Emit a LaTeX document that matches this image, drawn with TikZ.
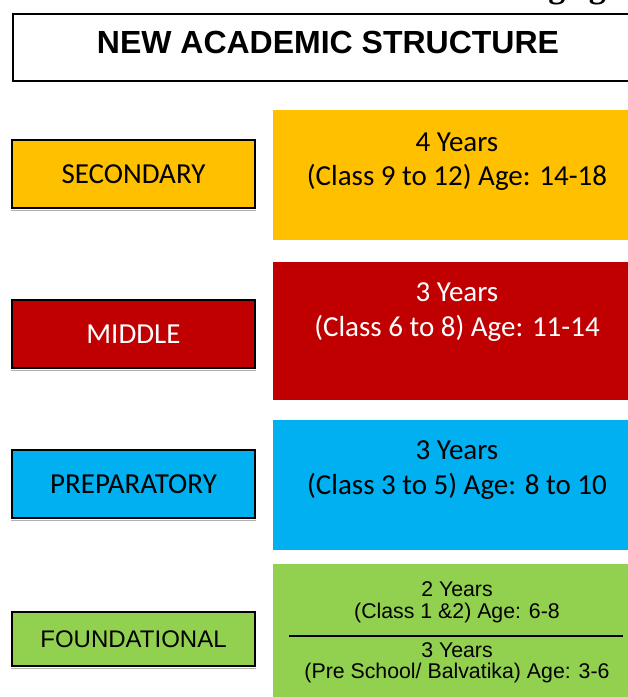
\documentclass[tikz,border=0pt]{standalone}
\usepackage{fontspec}
\newfontfamily\carlitofont{Carlito}
\newfontfamily\arialfont{Liberation Sans}
\newfontfamily\timesfont{Liberation Serif}
\definecolor{secyellow}{HTML}{FFC000}
\definecolor{midred}{HTML}{C00000}
\definecolor{prepblue}{HTML}{00B0F0}
\definecolor{foundgreen}{HTML}{92D050}
\definecolor{shadowgray}{HTML}{B0B0B0}
\begin{document}
\begin{tikzpicture}[x=1pt,y=-1pt,
  stagebox/.style={draw=black,line width=1.8pt,minimum width=243pt,minimum height=68pt,
    inner sep=0pt,font=\carlitofont\fontsize{29}{34}\selectfont},
  spanbox/.style={draw=none,minimum width=368pt,inner sep=0pt},
  spantext/.style={inner sep=0pt,font=\carlitofont\fontsize{29}{34}\selectfont},
  greentext/.style={inner sep=0pt,font=\arialfont\fontsize{21.3}{25}\selectfont},
  shadowline/.style={draw=shadowgray,line width=1pt}]
\useasboundingbox (0,0) rectangle (628,697);
\clip (0,0) rectangle (628,697);

% caption line above the chart, running past the top edge
\node[anchor=base west,inner sep=0pt,font=\timesfont\bfseries\fontsize{34}{38}\selectfont]
  (caption) at (-42,-3) {Table 1: New Academic Structure with age group};

% title box
\node[draw=black,line width=1.8pt,minimum width=632pt,minimum height=67pt,anchor=north west,
  inner sep=0pt] (titlebox) at (12,13) {};
\node[inner sep=0pt,font=\arialfont\bfseries\fontsize{32}{36}\selectfont] (title) at (328,42)
  {NEW ACADEMIC STRUCTURE};

% stage labels on the left
\node[stagebox,fill=secyellow] (secondary) at (133.5,174) {SECONDARY};
\node[stagebox,fill=midred,text=white] (middle) at (133.5,334) {MIDDLE};
\node[stagebox,fill=prepblue] (preparatory) at (133.5,484) {PREPARATORY};
\node[stagebox,fill=foundgreen,minimum height=54pt,
  font=\arialfont\fontsize{24}{28}\selectfont] (foundational) at (133.5,639) {FOUNDATIONAL};
\draw[shadowline] ([yshift=-1.8pt]secondary.south west) -- ([yshift=-1.8pt]secondary.south east);
\draw[shadowline] ([yshift=-1.8pt]middle.south west) -- ([yshift=-1.8pt]middle.south east);
\draw[shadowline] ([yshift=-1.8pt]preparatory.south west) -- ([yshift=-1.8pt]preparatory.south east);
\draw[shadowline] ([yshift=-1.8pt]foundational.south west) -- ([yshift=-1.8pt]foundational.south east);

% duration panels on the right
\node[spanbox,fill=secyellow,minimum height=130pt] (secspan) at (457,175) {};
\node[spanbox,fill=midred,minimum height=138pt] (midspan) at (457,331) {};
\node[spanbox,fill=prepblue,minimum height=130pt] (prepspan) at (457,485) {};
\node[spanbox,fill=foundgreen,minimum height=140pt] (foundspan) at (457,634) {};

\node[spantext] (secyears) at (457,142) {4 Years};
\node[spantext] (secclass) at (457,177) {(Class 9 to 12) Age: 14-18};
\node[spantext,text=white] (midyears) at (457,292) {3 Years};
\node[spantext,text=white] (midclass) at (457,328) {(Class 6 to 8) Age: 11-14};
\node[spantext] (prepyears) at (457,450) {3 Years};
\node[spantext] (prepclass) at (457,486) {(Class 3 to 5) Age: 8 to 10};

\node[greentext] (earlyyears) at (457,589) {2 Years};
\node[greentext] (earlyclass) at (457,613) {(Class 1 \&2) Age: 6-8};
\coordinate (divleft) at (289,636);
\coordinate (divright) at (623,636);
\draw[line width=1.5pt] (divleft) -- (divright);
\node[greentext] (preyears) at (457,650) {3 Years};
\node[greentext] (preclass) at (457,673) {(Pre School/ Balvatika) Age: 3-6};
\end{tikzpicture}
\end{document}
